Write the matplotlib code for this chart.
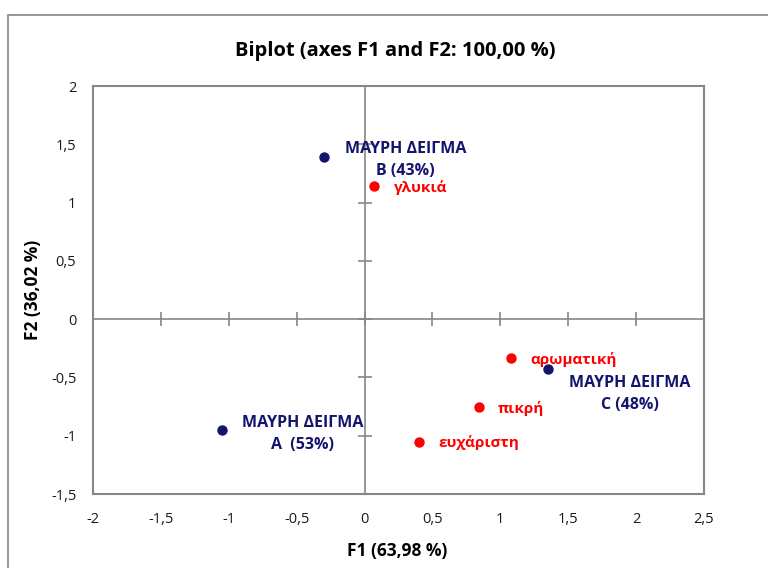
import matplotlib.pyplot as plt
from matplotlib.patches import Rectangle
from matplotlib.ticker import FuncFormatter

# Data
sample_labels = ["ΜΑΥΡΗ ΔΕΙΓΜΑ\nΒ (43%)", "ΜΑΥΡΗ ΔΕΙΓΜΑ\nC (48%)", "ΜΑΥΡΗ ΔΕΙΓΜΑ\nA  (53%)"]
sample_f1 = [-0.30, 1.35, -1.05]
sample_f2 = [1.39, -0.43, -0.95]

attr_labels = ["γλυκιά", "αρωματική", "πικρή", "ευχάριστη"]
attr_f1 = [0.07, 1.08, 0.84, 0.40]
attr_f2 = [1.14, -0.33, -0.755, -1.05]

x_ticks = [-2, -1.5, -1, -0.5, 0, 0.5, 1, 1.5, 2, 2.5]
y_ticks = [-1.5, -1, -0.5, 0, 0.5, 1, 1.5, 2]

NAVY = "#14146e"
RED = "#ff0000"
GRAY = "#868686"
FONT = ["Open Sans", "DejaVu Sans"]

fig = plt.figure(figsize=(7.68, 5.68), dpi=100)
fig.patches.append(Rectangle((8 / 768, -0.1), 2, (568 - 15) / 568 + 0.1,
                             transform=fig.transFigure, fill=False,
                             edgecolor=GRAY, linewidth=1.2))

ax = fig.add_axes([93 / 768, 74 / 568, 611 / 768, 408 / 568])
ax.set_xlim(-2, 2.5)
ax.set_ylim(-1.5, 2)

for s in ax.spines.values():
    s.set_color(GRAY)
    s.set_linewidth(1.5)

ax.axhline(0, color=GRAY, lw=1.2, zorder=1)
ax.axvline(0, color=GRAY, lw=1.2, zorder=1)
# cross tick marks on the zero axes
ax.plot(x_ticks, [0] * len(x_ticks), ls="none", marker="|", ms=10, mew=1.2, color=GRAY, zorder=1)
ax.plot([0] * len(y_ticks), y_ticks, ls="none", marker="_", ms=10, mew=1.2, color=GRAY, zorder=1)

fmt = FuncFormatter(lambda v, p: ("%g" % v).replace(".", ","))
ax.set_xticks(x_ticks)
ax.set_yticks(y_ticks)
ax.xaxis.set_major_formatter(fmt)
ax.yaxis.set_major_formatter(fmt)
ax.tick_params(length=0, labelsize=10.5, colors="#1a1a1a", pad=13)
ax.tick_params(axis="y", pad=12)
for lab in ax.get_xticklabels() + ax.get_yticklabels():
    lab.set_family(FONT)

ax.scatter(sample_f1, sample_f2, s=42, color=NAVY, zorder=3)
ax.scatter(attr_f1, attr_f2, s=42, color=RED, zorder=3)

sample_offsets = [(59, -2), (59, -18), (58, -3)]
for lab, x, y, off in zip(sample_labels, sample_f1, sample_f2, sample_offsets):
    ax.annotate(lab, (x, y), xytext=off, textcoords="offset points",
                ha="center", va="center", color=NAVY, fontsize=11.5,
                fontweight="bold", family=FONT, linespacing=1.5)

for lab, x, y in zip(attr_labels, attr_f1, attr_f2):
    ax.annotate(lab, (x, y), xytext=(14, -1), textcoords="offset points",
                ha="left", va="center", color=RED, fontsize=11,
                fontweight="bold", family=FONT)

fig.text(395 / 768, 1 - 51 / 568, "Biplot (axes F1 and F2: 100,00 %)",
         ha="center", va="center", fontsize=14.5, fontweight="bold", family=FONT)
fig.text(397 / 768, 1 - 551 / 568, "F1 (63,98 %)", ha="center", va="center",
         fontsize=12.5, fontweight="bold", family=FONT)
fig.text(33 / 768, 1 - 290 / 568, "F2 (36,02 %)", ha="center", va="center",
         rotation=90, fontsize=12.5, fontweight="bold", family=FONT)

fig.savefig("out.png", dpi=100)
